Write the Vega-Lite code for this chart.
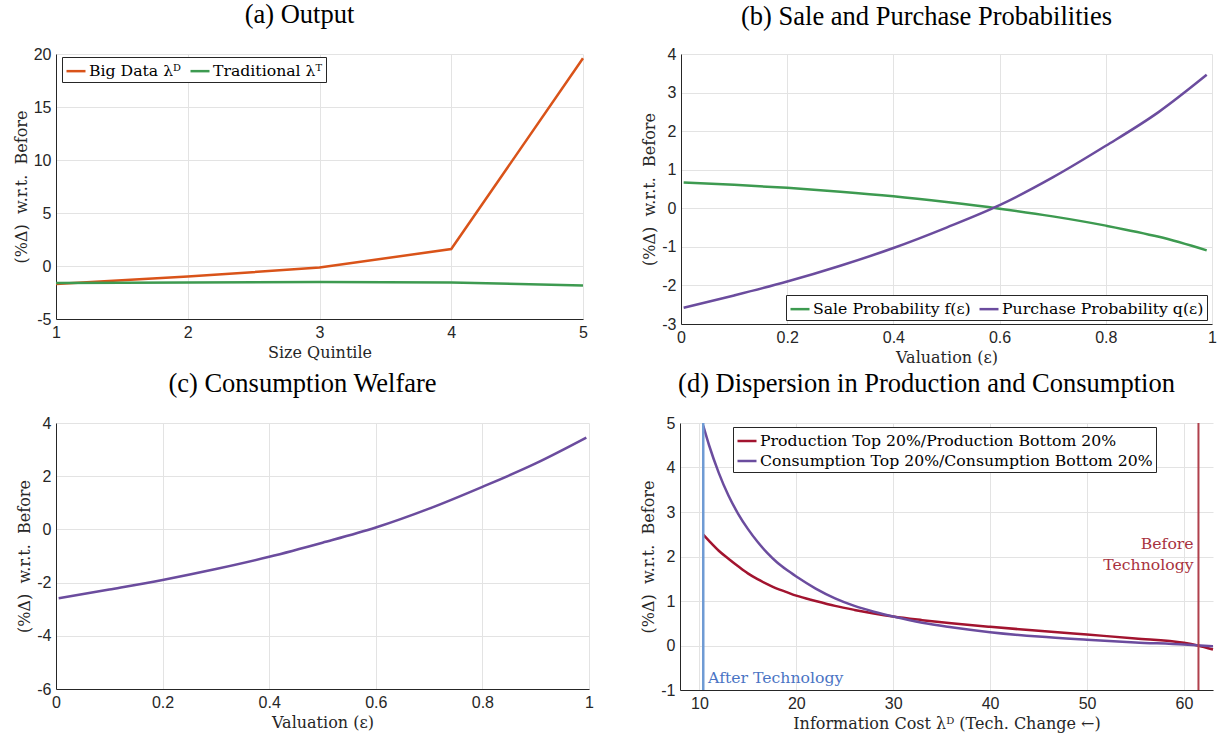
{
  "$schema": "https://vega.github.io/schema/vega-lite/v6.json",
  "padding": {"left": 13, "top": 1, "right": 5, "bottom": 5},
  "background": "white",
  "datasets": {
    "output": [
      {"q": 1, "series": "Big Data λᴰ", "value": -1.7},
      {"q": 2, "series": "Big Data λᴰ", "value": -1.0},
      {"q": 3, "series": "Big Data λᴰ", "value": -0.15},
      {"q": 4, "series": "Big Data λᴰ", "value": 1.6},
      {"q": 5, "series": "Big Data λᴰ", "value": 19.6},
      {"q": 1, "series": "Traditional λᵀ", "value": -1.6},
      {"q": 2, "series": "Traditional λᵀ", "value": -1.55},
      {"q": 3, "series": "Traditional λᵀ", "value": -1.5},
      {"q": 4, "series": "Traditional λᵀ", "value": -1.55},
      {"q": 5, "series": "Traditional λᵀ", "value": -1.85}
    ],
    "probs": [
      {"v": 0.005, "series": "Sale Probability f(ε)", "value": 0.67},
      {"v": 0.1, "series": "Sale Probability f(ε)", "value": 0.61},
      {"v": 0.2, "series": "Sale Probability f(ε)", "value": 0.53},
      {"v": 0.3, "series": "Sale Probability f(ε)", "value": 0.43},
      {"v": 0.4, "series": "Sale Probability f(ε)", "value": 0.31},
      {"v": 0.5, "series": "Sale Probability f(ε)", "value": 0.16},
      {"v": 0.6, "series": "Sale Probability f(ε)", "value": -0.01},
      {"v": 0.7, "series": "Sale Probability f(ε)", "value": -0.21},
      {"v": 0.8, "series": "Sale Probability f(ε)", "value": -0.45},
      {"v": 0.9, "series": "Sale Probability f(ε)", "value": -0.74},
      {"v": 0.99, "series": "Sale Probability f(ε)", "value": -1.09},
      {"v": 0.005, "series": "Purchase Probability q(ε)", "value": -2.58},
      {"v": 0.1, "series": "Purchase Probability q(ε)", "value": -2.26},
      {"v": 0.2, "series": "Purchase Probability q(ε)", "value": -1.9},
      {"v": 0.3, "series": "Purchase Probability q(ε)", "value": -1.49},
      {"v": 0.4, "series": "Purchase Probability q(ε)", "value": -1.03},
      {"v": 0.5, "series": "Purchase Probability q(ε)", "value": -0.5},
      {"v": 0.6, "series": "Purchase Probability q(ε)", "value": 0.08},
      {"v": 0.7, "series": "Purchase Probability q(ε)", "value": 0.8},
      {"v": 0.8, "series": "Purchase Probability q(ε)", "value": 1.62},
      {"v": 0.9, "series": "Purchase Probability q(ε)", "value": 2.5},
      {"v": 0.99, "series": "Purchase Probability q(ε)", "value": 3.46}
    ],
    "welfare": [
      {"v": 0.005, "value": -2.59},
      {"v": 0.1, "value": -2.26},
      {"v": 0.2, "value": -1.9},
      {"v": 0.3, "value": -1.49},
      {"v": 0.4, "value": -1.03},
      {"v": 0.5, "value": -0.5},
      {"v": 0.6, "value": 0.07},
      {"v": 0.7, "value": 0.78},
      {"v": 0.8, "value": 1.6},
      {"v": 0.9, "value": 2.48},
      {"v": 0.995, "value": 3.45}
    ],
    "dispersion": [
      {"cost": 10.4, "series": "Production Top 20%/Production Bottom 20%", "value": 2.49},
      {"cost": 11, "series": "Production Top 20%/Production Bottom 20%", "value": 2.35},
      {"cost": 12, "series": "Production Top 20%/Production Bottom 20%", "value": 2.13},
      {"cost": 13, "series": "Production Top 20%/Production Bottom 20%", "value": 1.95},
      {"cost": 14, "series": "Production Top 20%/Production Bottom 20%", "value": 1.78},
      {"cost": 15, "series": "Production Top 20%/Production Bottom 20%", "value": 1.62},
      {"cost": 16, "series": "Production Top 20%/Production Bottom 20%", "value": 1.49},
      {"cost": 17, "series": "Production Top 20%/Production Bottom 20%", "value": 1.38},
      {"cost": 18, "series": "Production Top 20%/Production Bottom 20%", "value": 1.28},
      {"cost": 19, "series": "Production Top 20%/Production Bottom 20%", "value": 1.2},
      {"cost": 20, "series": "Production Top 20%/Production Bottom 20%", "value": 1.12},
      {"cost": 22, "series": "Production Top 20%/Production Bottom 20%", "value": 1.0},
      {"cost": 24, "series": "Production Top 20%/Production Bottom 20%", "value": 0.89},
      {"cost": 26, "series": "Production Top 20%/Production Bottom 20%", "value": 0.8},
      {"cost": 28, "series": "Production Top 20%/Production Bottom 20%", "value": 0.72},
      {"cost": 30, "series": "Production Top 20%/Production Bottom 20%", "value": 0.65},
      {"cost": 33, "series": "Production Top 20%/Production Bottom 20%", "value": 0.57},
      {"cost": 36, "series": "Production Top 20%/Production Bottom 20%", "value": 0.5},
      {"cost": 40, "series": "Production Top 20%/Production Bottom 20%", "value": 0.42},
      {"cost": 45, "series": "Production Top 20%/Production Bottom 20%", "value": 0.33},
      {"cost": 50, "series": "Production Top 20%/Production Bottom 20%", "value": 0.245},
      {"cost": 55, "series": "Production Top 20%/Production Bottom 20%", "value": 0.16},
      {"cost": 60, "series": "Production Top 20%/Production Bottom 20%", "value": 0.06},
      {"cost": 61.4, "series": "Production Top 20%/Production Bottom 20%", "value": 0.0},
      {"cost": 63, "series": "Production Top 20%/Production Bottom 20%", "value": -0.09},
      {"cost": 10.4, "series": "Consumption Top 20%/Consumption Bottom 20%", "value": 4.94},
      {"cost": 11, "series": "Consumption Top 20%/Consumption Bottom 20%", "value": 4.5},
      {"cost": 12, "series": "Consumption Top 20%/Consumption Bottom 20%", "value": 3.88},
      {"cost": 13, "series": "Consumption Top 20%/Consumption Bottom 20%", "value": 3.37},
      {"cost": 14, "series": "Consumption Top 20%/Consumption Bottom 20%", "value": 2.96},
      {"cost": 15, "series": "Consumption Top 20%/Consumption Bottom 20%", "value": 2.62},
      {"cost": 16, "series": "Consumption Top 20%/Consumption Bottom 20%", "value": 2.33},
      {"cost": 17, "series": "Consumption Top 20%/Consumption Bottom 20%", "value": 2.08},
      {"cost": 18, "series": "Consumption Top 20%/Consumption Bottom 20%", "value": 1.87},
      {"cost": 19, "series": "Consumption Top 20%/Consumption Bottom 20%", "value": 1.7},
      {"cost": 20, "series": "Consumption Top 20%/Consumption Bottom 20%", "value": 1.55},
      {"cost": 22, "series": "Consumption Top 20%/Consumption Bottom 20%", "value": 1.28},
      {"cost": 24, "series": "Consumption Top 20%/Consumption Bottom 20%", "value": 1.06},
      {"cost": 26, "series": "Consumption Top 20%/Consumption Bottom 20%", "value": 0.89},
      {"cost": 28, "series": "Consumption Top 20%/Consumption Bottom 20%", "value": 0.76},
      {"cost": 30, "series": "Consumption Top 20%/Consumption Bottom 20%", "value": 0.65},
      {"cost": 33, "series": "Consumption Top 20%/Consumption Bottom 20%", "value": 0.51},
      {"cost": 36, "series": "Consumption Top 20%/Consumption Bottom 20%", "value": 0.41},
      {"cost": 40, "series": "Consumption Top 20%/Consumption Bottom 20%", "value": 0.3},
      {"cost": 45, "series": "Consumption Top 20%/Consumption Bottom 20%", "value": 0.2},
      {"cost": 50, "series": "Consumption Top 20%/Consumption Bottom 20%", "value": 0.13},
      {"cost": 55, "series": "Consumption Top 20%/Consumption Bottom 20%", "value": 0.07},
      {"cost": 60, "series": "Consumption Top 20%/Consumption Bottom 20%", "value": 0.02},
      {"cost": 63, "series": "Consumption Top 20%/Consumption Bottom 20%", "value": -0.02}
    ]
  },
  "resolve": {"scale": {"color": "independent"}, "legend": {"color": "independent"}},
  "spacing": 5,
  "vconcat": [
    {
      "resolve": {"scale": {"color": "independent"}, "legend": {"color": "independent"}},
      "spacing": 53,
      "hconcat": [
        {
          "title": {"text": "(a) Output", "offset": 18},
          "width": 527,
          "height": 265,
          "data": {"name": "output"},
          "mark": {"type": "line", "strokeWidth": 2.5},
          "encoding": {
            "x": {"field": "q", "type": "quantitative", "title": "Size Quintile", "scale": {"domain": [1, 5], "nice": false}, "axis": {"values": [1, 2, 3, 4, 5], "format": "~r"}},
            "y": {"field": "value", "type": "quantitative", "title": "(%Δ)\u00a0 w.r.t.\u00a0 Before", "scale": {"domain": [-5, 20], "nice": false}, "axis": {"values": [-5, 0, 5, 10, 15, 20], "format": "~r"}},
            "color": {"field": "series", "type": "nominal", "scale": {"domain": ["Big Data λᴰ", "Traditional λᵀ"], "range": ["#D95319", "#3D9A50"]},
              "legend": {"orient": "none", "legendX": 6, "legendY": 3, "direction": "horizontal"}}
          }
        },
        {
          "title": {"text": "(b) Sale and Purchase Probabilities", "offset": 16},
          "width": 531,
          "height": 270,
          "data": {"name": "probs"},
          "mark": {"type": "line", "strokeWidth": 2.5, "interpolate": "monotone"},
          "encoding": {
            "x": {"field": "v", "type": "quantitative", "title": "Valuation (ε)", "scale": {"domain": [0, 1], "nice": false}, "axis": {"values": [0, 0.2, 0.4, 0.6, 0.8, 1], "format": "~r"}},
            "y": {"field": "value", "type": "quantitative", "title": "(%Δ)\u00a0 w.r.t.\u00a0 Before", "scale": {"domain": [-3, 4], "nice": false}, "axis": {"values": [-3, -2, -1, 0, 1, 2, 3, 4], "format": "~r"}},
            "color": {"field": "series", "type": "nominal", "scale": {"domain": ["Sale Probability f(ε)", "Purchase Probability q(ε)"], "range": ["#3D9A50", "#6B4C9E"]},
              "legend": {"orient": "none", "legendX": 105, "legendY": 241, "direction": "horizontal"}}
          }
        }
      ]
    },
    {
      "resolve": {"scale": {"color": "independent"}, "legend": {"color": "independent"}},
      "spacing": 46,
      "hconcat": [
        {
          "title": {"text": "(c) Consumption Welfare", "offset": 18},
          "width": 533,
          "height": 266,
          "data": {"name": "welfare"},
          "mark": {"type": "line", "strokeWidth": 2.5, "color": "#6B4C9E", "interpolate": "monotone"},
          "encoding": {
            "x": {"field": "v", "type": "quantitative", "title": "Valuation (ε)", "scale": {"domain": [0, 1], "nice": false}, "axis": {"values": [0, 0.2, 0.4, 0.6, 0.8, 1], "format": "~r"}},
            "y": {"field": "value", "type": "quantitative", "title": "(%Δ)\u00a0 w.r.t.\u00a0 Before", "scale": {"domain": [-6, 4], "nice": false}, "axis": {"values": [-6, -4, -2, 0, 2, 4], "format": "~r"}}
          }
        },
        {
          "title": {"text": "(d) Dispersion in Production and Consumption", "offset": 18},
          "width": 533,
          "height": 267,
          "layer": [
            {
              "data": {"name": "dispersion"},
              "mark": {"type": "line", "strokeWidth": 2.5, "interpolate": "monotone"},
              "encoding": {
                "x": {"field": "cost", "type": "quantitative", "title": "Information Cost λᴰ (Tech. Change ←)", "scale": {"domain": [8, 63], "nice": false}, "axis": {"values": [10, 20, 30, 40, 50, 60], "format": "~r"}},
                "y": {"field": "value", "type": "quantitative", "title": "(%Δ)\u00a0 w.r.t.\u00a0 Before", "scale": {"domain": [-1, 5], "nice": false}, "axis": {"values": [-1, 0, 1, 2, 3, 4, 5], "format": "~r"}},
                "color": {"field": "series", "type": "nominal", "scale": {"domain": ["Production Top 20%/Production Bottom 20%", "Consumption Top 20%/Consumption Bottom 20%"], "range": ["#A2142F", "#6B4C9E"]},
                  "legend": {"orient": "none", "legendX": 53, "legendY": 4, "direction": "vertical", "rowPadding": 1}}
              }
            },
            {
              "data": {"values": [{"cost": 10.4}]},
              "mark": {"type": "rule", "color": "#6F9BD4", "strokeWidth": 2.5},
              "encoding": {"x": {"field": "cost", "type": "quantitative"}}
            },
            {
              "data": {"values": [{"cost": 61.5}]},
              "mark": {"type": "rule", "color": "#B0404C", "strokeWidth": 2},
              "encoding": {"x": {"field": "cost", "type": "quantitative"}}
            },
            {
              "data": {"values": [{"cost": 10.9, "value": -0.72, "label": "After Technology"}]},
              "mark": {"type": "text", "align": "left", "baseline": "middle", "color": "#4A74C4", "font": "DejaVu Serif", "fontSize": 15.7},
              "encoding": {"x": {"field": "cost", "type": "quantitative"}, "y": {"field": "value", "type": "quantitative"}, "text": {"field": "label"}}
            },
            {
              "data": {"values": [{"cost": 61.0, "value": 2.27, "label": "Before"}, {"cost": 61.0, "value": 1.8, "label": "Technology"}]},
              "mark": {"type": "text", "align": "right", "baseline": "middle", "color": "#A8323E", "font": "DejaVu Serif", "fontSize": 15.7},
              "encoding": {"x": {"field": "cost", "type": "quantitative"}, "y": {"field": "value", "type": "quantitative"}, "text": {"field": "label"}}
            }
          ]
        }
      ]
    }
  ],
  "config": {
    "locale": {"number": {"decimal": ".", "thousands": ",", "grouping": [3], "currency": ["$", ""], "minus": "-"}},
    "view": {"stroke": null},
    "title": {"font": "Liberation Serif", "fontSize": 26.5, "fontWeight": "normal", "color": "#000000", "dx": -20},
    "axis": {
      "grid": true, "gridColor": "#e3e3e3", "gridWidth": 1,
      "domainColor": "#262626", "domainWidth": 1,
      "ticks": false, "labelFlush": false, "labelOverlap": false,
      "labelFont": "Liberation Sans", "labelFontSize": 16, "labelColor": "#262626", "labelPadding": 5,
      "titleFont": "DejaVu Serif", "titleFontSize": 16, "titleFontWeight": "normal", "titleColor": "#262626", "titlePadding": 4
    },
    "legend": {
      "title": null, "labelFont": "DejaVu Serif", "labelFontSize": 15.7, "labelColor": "#000000", "labelLimit": 0,
      "symbolType": "stroke", "symbolStrokeWidth": 2.5, "symbolSize": 361, "labelOffset": 2, "columnPadding": 3, "rowPadding": 4,
      "strokeColor": "#262626", "fillColor": "white", "padding": 3
    }
  }
}
